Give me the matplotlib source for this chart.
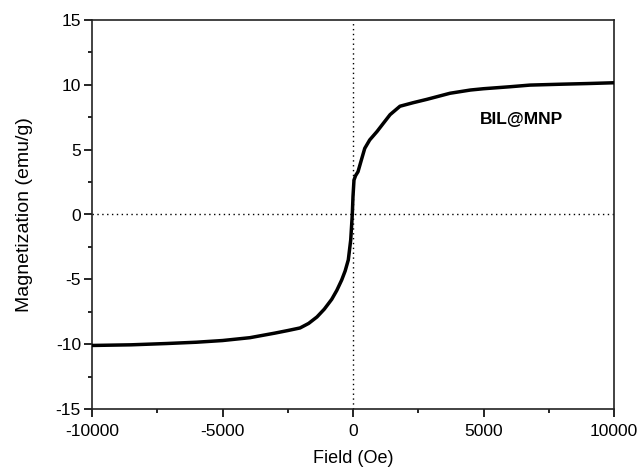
import matplotlib
matplotlib.use("Agg")
import matplotlib.pyplot as plt
from matplotlib.ticker import MultipleLocator

plt.rcParams['font.family'] = ['Liberation Sans', 'DejaVu Sans']
plt.rcParams['axes.unicode_minus'] = False

# Magnetization loop of BIL@MNP (Oe, emu/g)
field = [-10000, -8500, -7140, -6000, -5000, -3950, -3000, -2500, -2030,
         -1700, -1380, -1100, -815, -620, -433, -300, -180, -88, -27, 0,
         38, 100, 192, 320, 450, 640, 920, 1150, 1420, 1800, 2300,
         2830, 3716, 4500, 5000, 6000, 6780, 8000, 9000, 10000]
magnetization = [-10.1, -10.05, -9.95, -9.85, -9.72, -9.5, -9.15, -8.95, -8.75,
                 -8.4, -7.9, -7.3, -6.54, -5.85, -5.05, -4.35, -3.5, -1.97, 0.0, 1.4,
                 2.66, 3.0, 3.3, 4.2, 5.1, 5.75, 6.4, 7.0, 7.7, 8.35, 8.62,
                 8.88, 9.35, 9.6, 9.7, 9.85, 9.98, 10.05, 10.1, 10.16]

fig = plt.figure(figsize=(6.4, 4.69), dpi=100)
ax = fig.add_axes([92/640, 1-409/469, (614-92)/640, (409-20)/469])

ax.axhline(0, color='black', linestyle=(0, (1, 2.5)), linewidth=1.0, zorder=1)
ax.axvline(0, color='black', linestyle=(0, (1, 2.5)), linewidth=1.0, zorder=1)
ax.plot(field, magnetization, color='black', linewidth=2.5, zorder=3,
        solid_joinstyle='round', solid_capstyle='round')

ax.set_xlim(-10000, 10000)
ax.set_ylim(-15, 15)
ax.xaxis.set_major_locator(MultipleLocator(5000))
ax.xaxis.set_minor_locator(MultipleLocator(2500))
ax.yaxis.set_major_locator(MultipleLocator(5))
ax.yaxis.set_minor_locator(MultipleLocator(2.5))
ax.tick_params(which='major', direction='out', length=5.5, width=1.2,
               labelsize=12.5, colors='black')
ax.tick_params(which='minor', direction='out', length=2.8, width=1.2)
ax.tick_params(axis='x', which='major', pad=5)
ax.tick_params(axis='y', which='major', pad=2.5)
for s in ax.spines.values():
    s.set_linewidth(1.2)
    s.set_color('#222222')

ax.set_xlabel('Field (Oe)', fontsize=13, labelpad=8.5)
ax.set_ylabel('Magnetization (emu/g)', fontsize=14, labelpad=16)

ax.text(0.823, 0.743, 'BIL@MNP', transform=ax.transAxes, fontsize=12.5,
        fontweight='bold', ha='center', va='center')

fig.savefig('out.png', dpi=100)
